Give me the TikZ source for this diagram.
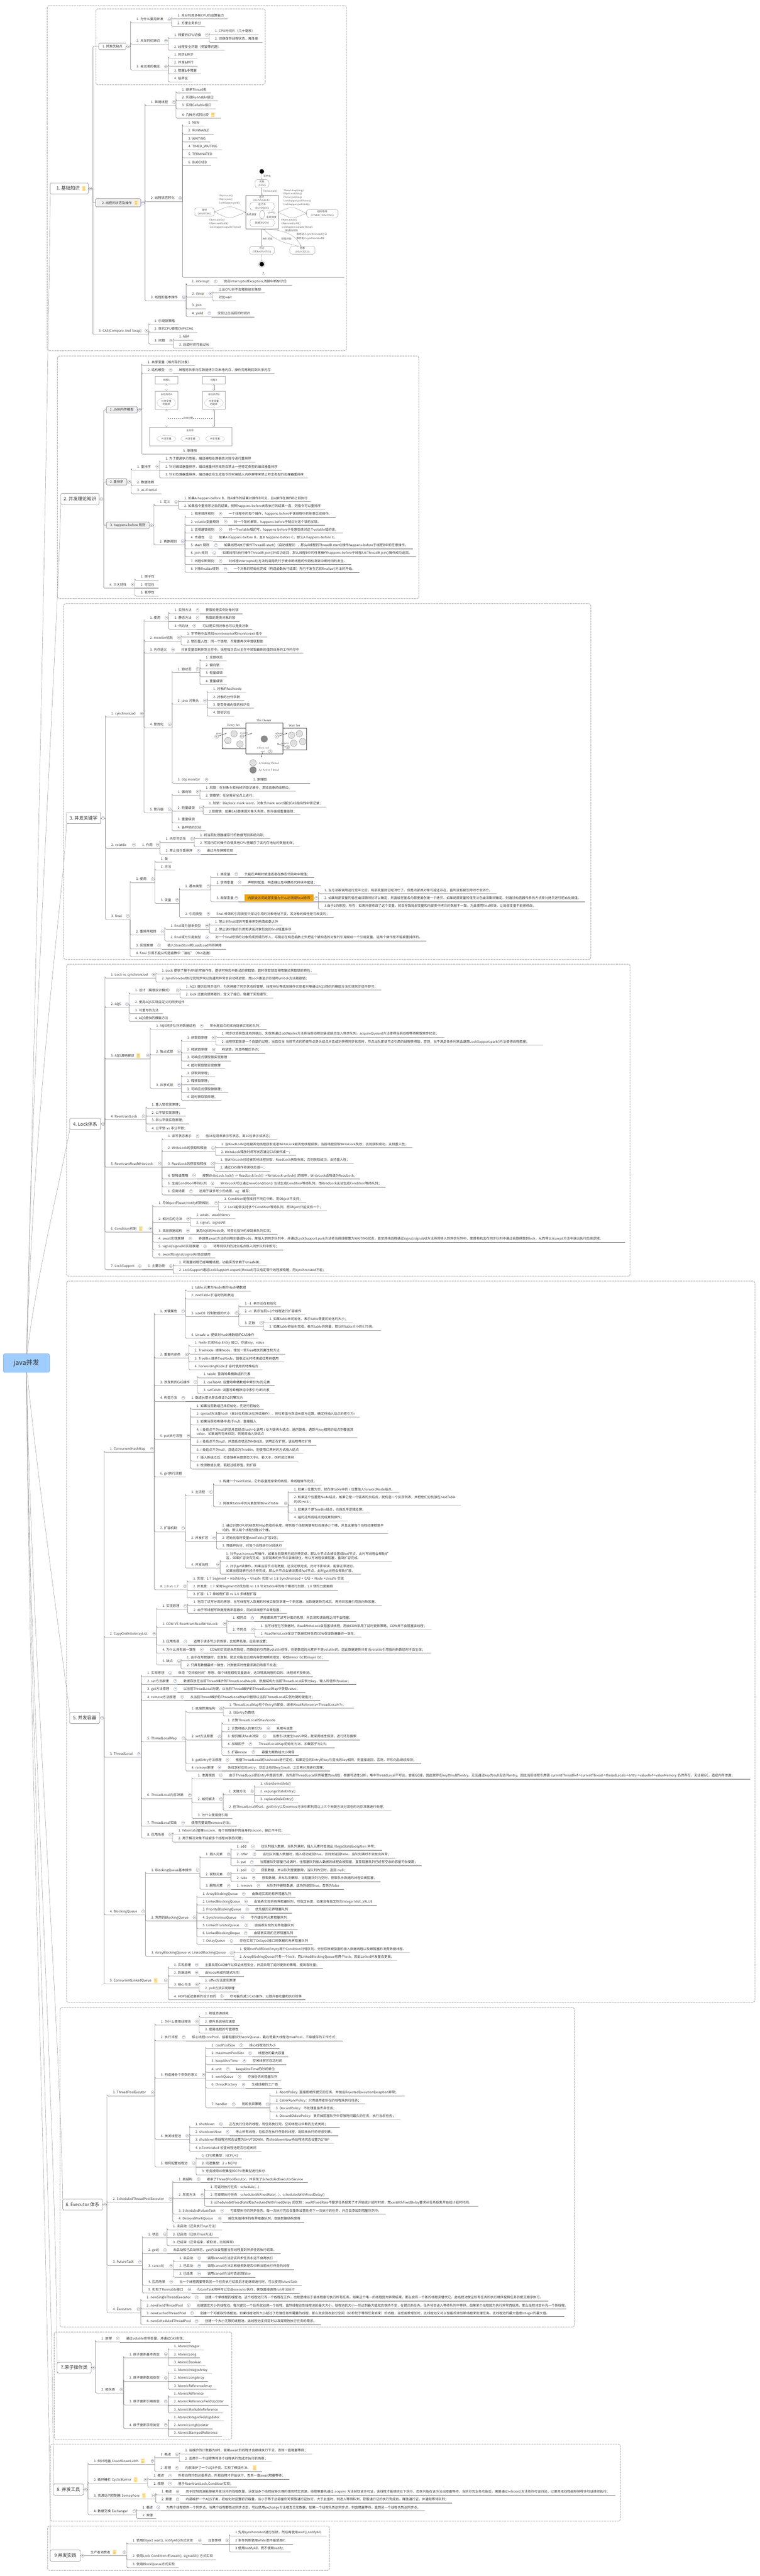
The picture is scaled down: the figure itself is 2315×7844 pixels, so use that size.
\documentclass[tikz,border=0pt]{standalone}
\usepackage{fontspec}
\setmainfont{Noto Sans CJK SC}
\newfontfamily\imgfont{Liberation Serif}
\usetikzlibrary{calc,backgrounds,arrows.meta,shapes.geometric}
\definecolor{inkc}{HTML}{333333}
\definecolor{linec}{HTML}{707070}
\definecolor{foldc}{HTML}{7F8CA3}
\definecolor{framec}{HTML}{B4B4B4}
\definecolor{rootc}{HTML}{9FCDFF}
\definecolor{hilitec}{HTML}{EFA30F}
\definecolor{notepg}{HTML}{FDE7A6}
\definecolor{noteln}{HTML}{F0C25A}
\definecolor{imgc}{HTML}{8A8A8A}
\definecolor{imgt}{HTML}{555555}
\tikzset{
	topic/.style={inner xsep=0pt,inner ysep=5pt,outer sep=0pt,text height=8pt,text depth=2pt,align=left,font=\fontsize{10}{13.5}\selectfont,text=inkc},
	link/.style={draw=linec,line width=.8pt,rounded corners=4pt},
	trunk/.style={draw=linec!80,line width=.7pt},
	fold/.style={circle,draw=foldc,fill=white,line width=.6pt,inner sep=0pt,minimum size=9.5pt,text=foldc},
	stub/.style={inner sep=0pt,outer sep=0pt,minimum size=0pt},
	regionbx/.style={draw=framec,line width=1.8pt,dash pattern=on 6pt off 2pt,rounded corners=6pt},
	rootbx/.style={draw=rootc!80!black,fill=rootc,rounded corners=5pt,line width=.8pt,outer sep=0pt,text=inkc,font=\fontsize{20}{24}\selectfont},
	topbx/.style={draw=linec,fill=white,rounded corners=4pt,line width=.8pt,outer sep=0pt,text=inkc,font=\fontsize{14}{17}\selectfont},
	subw/.style={draw=linec,fill=white,rounded corners=3pt,line width=.8pt,outer sep=0pt,text=inkc,font=\fontsize{10}{13}\selectfont},
	subg/.style={subw,fill=black!6},
	hilite/.style={fill=hilitec},
	imgtxt/.style={inner sep=0pt,text=imgt,align=center,font=\fontsize{8}{11}\imgfont\selectfont},
	imgcjk/.style={inner sep=0pt,text=imgt,align=center,font=\fontsize{7.6}{11}\selectfont},
	stbx/.style={draw=imgc,rounded corners=7pt,line width=.6pt,inner sep=0pt,outer sep=0pt,align=center,text=imgt,font=\fontsize{8}{11}\imgfont\selectfont},
	stl/.style={draw=imgc,line width=.6pt,->,>=stealth},
	jmmbx/.style={draw=imgc!70,line width=.6pt,inner sep=0pt,outer sep=0pt,text=imgt,font=\fontsize{7.6}{10}\selectfont},
	jmmel/.style={ellipse,draw=imgc!70,line width=.5pt,inner sep=0pt,outer sep=0pt,align=center,text=imgt,font=\fontsize{7.6}{10}\selectfont},
	jmmarr/.style={draw=imgc,line width=.5pt,double,double distance=3pt,{Implies}-{Implies}},
	mon/.style={draw=black!70,line width=.9pt},
	thw/.style={circle,draw=black!55,fill=black!12,line width=.5pt,inner sep=0pt,minimum size=20pt},
	thd/.style={circle,draw=black!60,fill=black!45,line width=.5pt,inner sep=0pt,minimum size=20pt},
	num/.style={circle,draw=black!70,line width=.5pt,inner sep=0pt,minimum size=11pt,font=\fontsize{7}{8}\imgfont\selectfont},
	monit/.style={inner sep=0pt,text=black!70,align=center,font=\fontsize{8}{9}\imgfont\itshape\selectfont},
	monar/.style={draw=black!80,line width=.7pt,->,>=stealth},
}
\newcommand{\foldbar}{\textcolor{foldc}{\rule[2pt]{5pt}{.6pt}}}
\newcommand{\notemark}{\hspace{7pt}\raisebox{-3.5pt}{\rlap{\textcolor{notepg}{\rule{11pt}{15pt}}}\rlap{\hspace{2pt}\raisebox{3pt}{\textcolor{noteln}{\rule{7pt}{1pt}}}}\rlap{\hspace{2pt}\raisebox{6.5pt}{\textcolor{noteln}{\rule{7pt}{1pt}}}}\rlap{\hspace{2pt}\raisebox{10pt}{\textcolor{noteln}{\rule{7pt}{1pt}}}}}\hspace{11pt}}
\newcommand{\twoln}[2]{\begin{tabular}[b]{@{}l@{}}#1\\#2\end{tabular}}
% name, parent, underline y, right end, text
\newcommand{\tp}[5]{%
	\path let \p1=(#2.south east) in node[topic,anchor=south west,text width={#4pt-\x1}] (#1) at (\x1,-#3pt) {\mbox{\hspace{18pt}#5}};
	\pgfpointanchor{#2}{south east}\pgfgetlastxy{\tpx}{\tpy}
	\pgfmathparse{abs(\tpy+#3)}
	\ifdim\pgfmathresult pt>1.5pt
		\draw[link] (#2.south east) |- (#1.south west) -- (#1.south east);
	\else
		\draw[link] (#2.south east) -- (#1.south east);
	\fi
	\ifcsname fold-#2\endcsname\else
		\expandafter\gdef\csname fold-#2\endcsname{}
		\node[fold] (#2-fold) at ([shift={(-7pt,11pt)}]#2.south east) {\foldbar};
	\fi}
% name, style, left, right, top, bottom, text
\newcommand{\bx}[7]{\node[#2,minimum width={#4pt-#3pt},minimum height={#6pt-#5pt}] (#1) at ({(#3+#4)/2},{(#5+#6)/2}) {#7};}
\newcommand{\bxout}[2]{%
	\node[stub] (#1o) at ([xshift=#2pt]#1.east) {};
	\draw[link] (#1.east) -- (#1o.south east);
	\node[fold] (#1-fold) at ([xshift=7pt]#1.east) {\foldbar};
	\expandafter\gdef\csname fold-#1o\endcsname{}}
\newcommand{\bxlink}[2]{\draw[link] (#1.south east) |- (#2.west);}

\begin{document}
\frenchspacing
\begin{tikzpicture}[x=1pt,y=-1pt]
	\useasboundingbox (0,0) rectangle (2315,7844);
	%DASHED REGIONS
	\draw[regionbx] (144,17) rectangle (1056,1068);
	\draw[regionbx] (292,27) rectangle (808,258);
	\draw[regionbx] (175,1084) rectangle (1276,1822.6);
	\draw[regionbx] (194,1838) rectangle (1800,2921.5);
	\draw[regionbx] (203,2936) rectangle (1920,3886);
	\draw[regionbx] (203,3901) rectangle (2300,6097);
	\draw[regionbx] (183,6113) rectangle (1750,7086);
	\draw[regionbx] (165,7101) rectangle (706,7428);
	\draw[regionbx] (154,7442.5) rectangle (1890,7677);
	\draw[regionbx] (145,7692) rectangle (1004,7827);

	%ROOT AND SECTIONS
	\bx{root}{rootbx}{10}{151}{4122}{4179}{java并发}
	\bx{a0}{topbx}{153}{269}{557}{591}{1. 基础知识\notemark}
	\bx{b0}{topbx}{185}{302}{1502.5}{1536}{2. 并发理论知识}
	\bx{c0}{topbx}{202}{307}{2474}{2508}{3. 并发关键字}
	\bx{d0}{topbx}{212}{307}{3405.5}{3439.5}{4. Lock体系}
	\bx{e0}{topbx}{212}{304}{5214}{5248}{5. 并发容器}
	\bx{f0}{topbx}{191}{312}{6696}{6730}{6. Executor 体系}
	\bx{g0}{topbx}{174}{278}{7193}{7226}{7.原子操作类}
	\bx{h0}{topbx}{163}{254}{7563.5}{7598}{8. 并发工具}
	\bx{i0}{topbx}{153}{245}{7765}{7799}{9 并发实践}
	\begin{scope}[on background layer]
		\draw[trunk] (root.center) .. controls (110,3000) and (148,1100) .. (a0.south west);
		\draw[trunk] (root.center) .. controls (100,3100) and (178,1900) .. (b0.south west);
		\draw[trunk] (root.center) .. controls (105,3300) and (198,2700) .. (c0.south west);
		\draw[trunk] (root.center) .. controls (95,3950) and (205,3500) .. (d0.south west);
		\draw[trunk] (root.center) .. controls (100,4400) and (205,5150) .. (e0.north west);
		\draw[trunk] (root.center) .. controls (95,5000) and (185,6200) .. (f0.north west);
		\draw[trunk] (root.center) .. controls (90,5200) and (170,6400) .. (g0.north west);
		\draw[trunk] (root.center) .. controls (90,5200) and (158,6700) .. (h0.north west);
		\draw[trunk] (root.center) .. controls (88,5300) and (150,6900) .. (i0.north west);
	\end{scope}
	\bxout{a0}{14}
	\bxout{b0}{14}
	\bxout{c0}{14}
	\bxout{d0}{13}
	\bxout{e0}{13}
	\bxout{f0}{14}
	\bxout{g0}{13}
	\bxout{h0}{14}
	\bxout{i0}{13}

	%SECTION 1
	\bx{a1}{subw}{301}{384}{131}{151}{1. 并发优缺点}
	\bxout{a1}{14}
	\bxlink{a0o}{a1}
	\tp{a1a}{a1o}{69.6}{523}{1. 为什么要用并发}
	\tp{a1a1}{a1a}{57.3}{694}{1. 充分利用多核CPU的运算能力}
	\tp{a1a2}{a1a}{81}{625}{2. 方便业务拆分}
	\tp{a1b}{a1o}{135}{513}{2. 并发的优缺点}
	\tp{a1b1}{a1b}{117.4}{637}{1. 频繁的CPU切换}
	\tp{a1b1a}{a1b1}{105.6}{788}{1. CPU时间片（几十毫秒）}
	\tp{a1b1b}{a1b1}{129.3}{799}{2. 切换保存线程状态，耗性能}
	\tp{a1b2}{a1b}{153.4}{685}{2. 线程安全问题（死锁等问题）}
	\tp{a1c}{a1o}{213.5}{513}{3. 易混淆的概念}
	\tp{a1c1}{a1c}{177.5}{602}{1. 同步\&异步}
	\tp{a1c2}{a1c}{201.3}{602}{2. 并发\&并行}
	\tp{a1c3}{a1c}{225.4}{612}{3. 阻塞\&非阻塞}
	\tp{a1c4}{a1c}{249.5}{585}{4. 临界区}

	\bx{a2}{subg}{291}{429}{605}{630}{2. 线程的状态及操作\notemark}
	\bxout{a2}{13}
	\bxlink{a0o}{a2}
	\tp{a2a}{a2o}{321.5}{536.5}{1. 新建线程}
	\tp{a2a1}{a2a}{283.5}{643}{1. 继承Thread类}
	\tp{a2a2}{a2a}{307}{664}{2. 实现Runnable接口}
	\tp{a2a3}{a2a}{331.4}{658}{3. 实现Callable接口}
	\tp{a2a4}{a2a}{360}{673}{4. 几种方式的比较\notemark}
	\tp{a2b}{a2o}{614}{556}{2. 线程状态转化}
	\tp{a2b1}{a2b}{384.3}{622}{1. NEW}
	\tp{a2b2}{a2b}{408.5}{651}{2. RUNNABLE}
	\tp{a2b3}{a2b}{432.6}{640.6}{3. WAITING}
	\tp{a2b4}{a2b}{456.3}{676}{4. TIMED\_WAITING}
	\tp{a2b5}{a2b}{480.4}{662}{5. TERMINATED}
	\tp{a2b6}{a2b}{504.6}{643}{6. BLOCKED}
	\tp{a2b7}{a2b}{844.5}{1049}{\hspace{225pt}7.}
	\tp{a2c}{a2o}{916}{567}{3. 线程的基本操作}
	\tp{a2c1}{a2c}{868}{664}{1. interrupt}
	\tp{a2c1a}{a2c1}{868}{889}{抛出InterruptedException,清除中断标识位}
	\tp{a2c2}{a2c}{904.5}{648}{2. sleep}
	\tp{a2c2a}{a2c2}{892}{807}{让出CPU并不会释放掉对象锁}
	\tp{a2c2b}{a2c2}{916}{719}{对比wait}
	\tp{a2c3}{a2c}{940.4}{627}{3. join}
	\tp{a2c4}{a2c}{964.5}{645}{4. yield}
	\tp{a2c4a}{a2c4}{964.5}{775}{仅仅让出当前的时间片}
	\tp{a3}{a0o}{1018}{453}{3. CAS(Compare And Swap)}
	\tp{a3a}{a3}{988.6}{545}{1. 乐观锁策略}
	\tp{a3b}{a3}{1012}{601}{2. 现代CPU使用CMPXCHG}
	\tp{a3c}{a3}{1048}{528}{3. 问题}
	\tp{a3c1}{a3c}{1036}{588}{1. ABA}
	\tp{a3c2}{a3c}{1060}{650}{2. 自旋时间可能过长}

	%STATE DIAGRAM
	\node[circle,fill=black,inner sep=0pt,minimum size=14pt] (ststart) at (797.6,522) {};
	\node[stbx,minimum width=42pt,minimum height=24pt] (stnew) at (798,559) {\fontsize{7.6}{11}\rmfamily 初始\\(NEW)};
	\node[draw=imgc,line width=.6pt,minimum width=98pt,minimum height=102.5pt,inner sep=0pt,outer sep=0pt] (strun) at (798,646.2) {};
	\node[imgcjk] (strunl) at (797,601) {运行};
	\node[imgtxt] (strunr) at (797,611) {(RUNNABLE)};
	\node[stbx,minimum width=73pt,minimum height=23pt] (strng) at (798.5,628.5) {\fontsize{7.6}{11}\rmfamily 运行中\\(RUNNING)};
	\node[stbx,minimum width=73pt,minimum height=23pt] (strdy) at (798.5,678.5) {\fontsize{7.6}{11}\rmfamily 就绪(READY)};
	\node[stbx,minimum width=60pt,minimum height=25pt] (stwait) at (623,645.5) {\fontsize{7.6}{11}\rmfamily 等待\\(WAITING)};
	\node[stbx,minimum width=96pt,minimum height=24.5pt] (sttime) at (982,649.7) {\fontsize{7.6}{11}\rmfamily 超时等待\\(TIMED\_WAITING)};
	\node[stbx,minimum width=76pt,minimum height=23.7pt] (stterm) at (798,762.4) {\fontsize{7.6}{11}\rmfamily 终止\\(TERMINATED)};
	\node[stbx,minimum width=77pt,minimum height=24pt] (stblk) at (921.5,762) {\fontsize{7.6}{11}\rmfamily 阻塞\\(BLOCKED)};
	\node[circle,draw=imgc,line width=.6pt,inner sep=0pt,minimum size=19pt] (stendo) at (797.6,804.5) {};
	\node[circle,fill=black,inner sep=0pt,minimum size=14pt] (stend) at (797.6,804.5) {};
	\draw[stl] (ststart) -- (stnew);
	\draw[stl] (stnew) -- (strun);
	\draw[stl] (strng.south) to[out=205,in=155] (strdy.north);
	\draw[stl] (strdy.north) to[out=25,in=-25] (strng.south);
	\draw[stl,rounded corners=12pt] (strun.west) -- (699,627) -- (stwait.east);
	\draw[stl,rounded corners=12pt] (stwait.east) -- (699,666) -- (strun.west);
	\draw[stl,rounded corners=12pt] (strun.east) -- (890,629) -- (sttime.west);
	\draw[stl,rounded corners=12pt] (sttime.west) -- (890,666) -- (strun.east);
	\draw[stl] (strun.south) -- (stterm.north);
	\draw[stl] ([xshift=5pt]strun.south) .. controls (870,700) and (900,715) .. ([xshift=-4pt]stblk.north);
	\draw[stl] ([xshift=-11pt]stblk.north) .. controls (870,740) and (840,735) .. ([xshift=5pt]strun.south);
	\draw[stl] (stterm) -- (stendo);
	\node[imgcjk] (lb1) at (814,536) {实例化};
	\node[imgtxt] (lb2) at (823,582) {Thread.start()};
	\node[imgtxt] (lb3) at (688,597) {Object.wait()};
	\node[imgtxt] (lb4) at (687,608) {Object.join()};
	\node[imgtxt] (lb5) at (699,618) {LockSupport.park()};
	\node[imgtxt] (lb6) at (661,671) {Object.notify()};
	\node[imgtxt] (lb7) at (667,682) {Object.notifyAll()};
	\node[imgtxt] (lb8) at (686,692.6) {LockSupport.unpark(Thread)};
	\node[imgtxt] (lb9) at (894,580.5) {Thread.sleep(long)};
	\node[imgtxt] (lb10) at (891,591) {Object.wait(long)};
	\node[imgtxt] (lb11) at (891,602) {Thread.join(long)};
	\node[imgtxt] (lb12) at (905.5,612.5) {LockSupport.parkNanos()};
	\node[imgtxt] (lb13) at (903.6,623) {LockSupport.parkUntil()};
	\node[imgtxt] (lb14) at (880.6,670) {Object.notify()};
	\node[imgtxt] (lb15) at (886.5,681) {Object.notifyAll()};
	\node[imgtxt] (lb16) at (905.6,692) {LockSupport.unpark(Thread)};
	\node[imgcjk] (lb17) at (888,702) {超进时间到};
	\node[imgcjk] (lb18) at (766,653.5) {系统调度};
	\node[imgtxt] (lb19) at (827,649) {yield()};
	\node[imgcjk] (lb20) at (827,661) {系统调度};
	\node[imgcjk] (lb21) at (815.5,728) {执行完成};
	\node[imgcjk] (lb22) at (872.5,728) {获取到锁};
	\node[imgcjk] (lb23) at (950,714) {等待进入synchronized方法};
	\node[imgcjk] (lb24) at (945.7,726) {等待进入synchronized块};

	%SECTION 2
	\bx{b1}{subg}{324}{418}{1238}{1258}{1. JMM内存模型}
	\bxout{b1}{14}
	\bxlink{b0o}{b1}
	\tp{b1a}{b1o}{1113}{594}{1. 共享变量（堆内存的对象）}
	\tp{b1b}{b1o}{1137.5}{527}{2. 结构模型}
	\tp{b1b1}{b1b}{1137.5}{836}{线程将共享内存数据拷贝到本地内存，操作完再刷回到共享内存}
	\tp{b1c}{b1o}{1383}{721}{\hspace{108pt}3. 原理图}

	%JMM PICTURE
	\node[jmmbx,minimum width=68pt,minimum height=23pt] (jmta) at (507,1157.5) {线程A};
	\node[jmmbx,minimum width=69pt,minimum height=23pt] (jmtb) at (651.5,1157.5) {线程B};
	\node[jmmbx,minimum width=68pt,minimum height=55pt] (jmla) at (507,1218.5) {};
	\node[jmmbx,minimum width=69pt,minimum height=55pt] (jmlb) at (651.5,1218.5) {};
	\node[jmmbx,draw=none] (jmlat) at (507,1201) {本地内存A};
	\node[jmmbx,draw=none] (jmlbt) at (651.5,1201) {本地内存B};
	\node[jmmel,minimum width=57pt,minimum height=31pt] (jmca) at (507,1226.5) {共享变量\\的副本};
	\node[jmmel,minimum width=57pt,minimum height=31pt] (jmcb) at (651.5,1226.5) {共享变量\\的副本};
	\node[jmmbx,minimum width=250pt,minimum height=56.5pt] (jmm) at (581,1329.8) {};
	\node[jmmbx,draw=none] (jmmt) at (579,1310.5) {主内存};
	\node[jmmel,minimum width=58pt,minimum height=20pt] (jms1) at (507,1336) {共享变量};
	\node[jmmel,minimum width=58pt,minimum height=20pt] (jms2) at (580,1336) {共享变量};
	\node[jmmel,minimum width=58pt,minimum height=20pt] (jms3) at (655,1336) {共享变量};
	\node[jmmbx,draw=none] (jmctl) at (573,1273.5) {JMM控制};
	\coordinate (jmml) at (510,1273.5);
	\coordinate (jmmr) at (649,1273.5);
	\draw[jmmarr] (jmta) -- (jmla);
	\draw[jmmarr] (jmtb) -- (jmlb);
	\draw[jmmarr] (jmla.south) -- (jmla.south |- jmm.north);
	\draw[jmmarr] (jmlb.south) -- (jmlb.south |- jmm.north);
	\draw[stl,dashed] (jmctl) -- (jmml);
	\draw[stl,dashed] (jmctl) -- (jmmr);

	\bx{b2}{subg}{324}{387}{1457.4}{1477}{2. 重排序}
	\bxout{b2}{13}
	\bxlink{b0o}{b2}
	\tp{b2a}{b2o}{1431.5}{486}{1. 重排序}
	\tp{b2a1}{b2a}{1407.4}{778}{1. 为了提高执行性能，编译器和处理器会对指令进行重排序}
	\tp{b2a2}{b2a}{1431.5}{858}{2. 针对编译器重排序，编译器重排序规则会禁止一些特定类型的编译器重排序}
	\tp{b2a3}{b2a}{1455.6}{938}{3. 针对处理器重排序，编译器会在生成指令的时候插入内存屏障来禁止特定类型的处理器重排序}
	\tp{b2b}{b2o}{1479}{483}{2. 数据依赖}
	\tp{b2c}{b2o}{1503.4}{492}{3. as-if-serial}
	\bx{b3}{subg}{324}{455}{1589.5}{1609.6}{3. happens-before 规则}
	\bxout{b3}{14}
	\bxlink{b0o}{b3}
	\tp{b3a}{b3o}{1539.6}{543.6}{1. 定义}
	\tp{b3a1}{b3a}{1527.5}{948}{1. 如果A happen-before B，则A操作的结果对操作B可见，且A操作在操作B之前执行}
	\tp{b3a2}{b3a}{1551}{991}{2. 如果指令重排序之后的结果，按照happens-before关系执行的结果一直，则指令可以重排序}
	\tp{b3b}{b3o}{1659}{563.5}{2. 具体规则}
	\tp{b3b1}{b3b}{1575.3}{679}{1. 程序顺序规则}
	\tp{b3b1a}{b3b1}{1575.3}{1023}{一个线程中的每个操作，happens-before于该线程中的任意后续操作。}
	\tp{b3b2}{b3b}{1599.4}{695}{2. volatile变量规则}
	\tp{b3b2a}{b3b2}{1599.4}{990}{对一个锁的解锁，happens-before于随后对这个锁的加锁。}
	\tp{b3b3}{b3b}{1623}{679}{3. 监视器锁规则}
	\tp{b3b3a}{b3b3}{1623}{1045}{对一个volatile域的写，happens-before于任意后续对这个volatile域的读。}
	\tp{b3b4}{b3b}{1647}{649}{4. 传递性}
	\tp{b3b4a}{b3b4}{1647}{1038}{如果A happens-before B，且B happens-before C，那么A happens-before C。}
	\tp{b3b5}{b3b}{1671}{665}{5. start 规则}
	\tp{b3b5a}{b3b5}{1671}{1257.6}{如果线程A执行操作ThreadB.start()（启动线程B），那么A线程的ThreadB.start()操作happens-before于线程B中的任意操作。}
	\tp{b3b6}{b3b}{1695}{660}{6. join 规则}
	\tp{b3b6a}{b3b6}{1695}{1267.5}{如果线程A执行操作ThreadB.join()并成功返回，那么线程B中的任意操作happens-before于线程A从ThreadB.join()操作成功返回。}
	\tp{b3b7}{b3b}{1719}{679}{7. 线程中断规则}
	\tp{b3b7a}{b3b7}{1719}{1070}{对线程interrupted()方法的调用先行于被中断线程的代码检测到中断时间的发生。}
	\tp{b3b8}{b3b}{1743}{694}{8. 对象finalize规则}
	\tp{b3b8a}{b3b8}{1743}{1095}{一个对象的初始化完成（构造函数执行结束）先行于发生它的finalize()方法的开始。}
	\tp{b4}{b0o}{1791}{411}{4. 三大特性}
	\tp{b4a}{b4}{1767}{483}{1. 原子性}
	\tp{b4b}{b4}{1791}{483}{2. 可见性}
	\tp{b4c}{b4}{1815.4}{483}{3. 有序性}

	%SECTION 3
	\tp{c1}{c0o}{2183.6}{439}{1. synchronized}
	\tp{c1a}{c1}{1892}{514}{1. 使用}
	\tp{c1a1}{c1a}{1868.6}{609}{1. 实例方法}
	\tp{c1a1a}{c1a1}{1868.6}{739}{获取的是实例对象的锁}
	\tp{c1a2}{c1a}{1892}{609}{2. 静态方法}
	\tp{c1a2a}{c1a2}{1892}{729}{获取的是类对象的锁}
	\tp{c1a3}{c1a}{1916.3}{599}{3. 代码块}
	\tp{c1a3a}{c1a3}{1916.3}{769}{可以是实例对象也可以是类对象}
	\tp{c1b}{c1}{1952.4}{552}{2. monitor机制}
	\tp{c1b1}{c1b}{1940}{814}{1. 字节码中会添加monitorenter和monitorexit指令}
	\tp{c1b2}{c1b}{1964.5}{814}{2. 锁的重入性：同一个锁程，不需要再次申请获取锁}
	\tp{c1c}{c1}{1988.7}{534}{3. 内存语义}
	\tp{c1c1}{c1c}{1988.7}{924}{共享变量会刷新到主存中，线程每次会从主存中读取最新的值到自身的工作内存中}
	\tp{c1d}{c1}{2216.5}{524}{4. 锁优化}
	\tp{c1d1}{c1d}{2048}{609}{1. 锁状态}
	\tp{c1d1a}{c1d1}{2012.5}{691}{1. 无锁状态}
	\tp{c1d1b}{c1d1}{2036.7}{681}{2. 偏向锁}
	\tp{c1d1c}{c1d1}{2060.4}{691}{3. 轻量级锁}
	\tp{c1d1d}{c1d1}{2084.7}{691}{4. 重量级锁}
	\tp{c1d2}{c1d}{2144.3}{631.5}{2. java 对象头}
	\tp{c1d2a}{c1d2}{2108.4}{750}{1. 对象的hashcode}
	\tp{c1d2b}{c1d2}{2132.7}{744}{2. 对象的分代年龄}
	\tp{c1d2c}{c1d2}{2156.4}{774}{3. 是否是偏向锁的标识位}
	\tp{c1d2d}{c1d2}{2180.7}{714}{4. 锁标识位}
	\tp{c1d3}{c1d}{2385}{636.5}{3. obj monitor}
	\tp{c1d3a}{c1d3}{2385}{944}{\hspace{117pt}1. 原理图}

	%MONITOR PICTURE
	\node[mon,inner sep=0pt,outer sep=0pt,minimum width=114pt,minimum height=94.5pt] (mowner) at (805,2248.7) {};
	\node[mon,inner sep=0pt,outer sep=0pt,minimum width=71.4pt,minimum height=63pt,anchor=north east] (mentry) at (748.4,2217) {};
	\node[mon,inner sep=0pt,outer sep=0pt,minimum width=72pt,minimum height=66pt,anchor=north west] (mwaits) at (862,2217) {};
	\node[inner sep=0pt,font=\fontsize{10}{11}\imgfont\selectfont,text=black!75] (mt1) at (804,2193) {The Owner};
	\node[inner sep=0pt,font=\fontsize{10}{11}\imgfont\selectfont,text=black!75] (mt2) at (712,2209) {Entry Set};
	\node[inner sep=0pt,font=\fontsize{10}{11}\imgfont\selectfont,text=black!75] (mt3) at (897,2209) {Wait Set};
	\node[thw] (me1) at (713,2234.5) {};
	\node[thw] (me2) at (694.5,2255) {};
	\node[thw] (me3) at (731,2265.5) {};
	\node[thw] (mw1) at (888,2239) {};
	\node[thw] (mw2) at (912,2234) {};
	\node[thw] (mw3) at (895,2263) {};
	\node[thw] (mw4) at (922,2258) {};
	\node[thd] (mo1) at (805,2250) {};
	\node[thw] (ml1) at (771,2323) {};
	\node[thd] (ml2) at (771,2344.5) {};
	\node[inner sep=0pt,anchor=west,font=\fontsize{8.5}{10}\imgfont\selectfont,text=black!70] (mlt1) at (788,2325) {A Waiting Thread};
	\node[inner sep=0pt,anchor=west,font=\fontsize{8.5}{10}\imgfont\selectfont,text=black!70] (mlt2) at (788,2345.5) {An Active Thread};
	\node[num] (mn1) at (660,2243) {1};
	\node[num] (mn2) at (737,2243) {2};
	\node[num] (mn3) at (843,2243) {3};
	\node[num] (mn4) at (877,2275) {4};
	\node[num] (mn5) at (824,2288) {5};
	\node[monit] (mi1) at (667,2233.5) {enter};
	\node[monit] (mi2) at (743.5,2233.5) {acquire};
	\node[monit] (mi3) at (850,2233.5) {release};
	\node[monit] (mi4) at (868,2265) {acquire};
	\node[monit] (mi5) at (800.7,2278) {release and};
	\node[monit] (mi6) at (800.7,2288) {exit};
	\draw[monar] (mn1) -- (690.4,2233);
	\draw[monar] (mn2) -- (767.5,2233);
	\draw[monar] (mn3) -- (875,2233);
	\draw[monar] (mn4) -- (844.6,2264.5);
	\draw[monar] (mi6) -- (796.5,2306);

	\tp{c1e}{c1}{2475.4}{524}{5. 锁升级}
	\tp{c1e1}{c1e}{2421.6}{609}{1. 偏向锁}
	\tp{c1e1a}{c1e1}{2409.5}{901}{1. 加锁：在对象头和栈帧的锁记录中，添加自身的线程ID；}
	\tp{c1e1b}{c1e1}{2433.2}{790.7}{2. 锁撤销：在全局安全点上进行；}
	\tp{c1e2}{c1e}{2470}{619}{2. 轻量级锁}
	\tp{c1e2a}{c1e2}{2457.4}{994}{1. 加锁：Displace mark word，对象头mark word通过CAS指向栈中锁记录；}
	\tp{c1e2b}{c1e2}{2481}{915}{2.锁撤销：如果CAS替换回对象头失败，则升级成重量级锁；}
	\tp{c1e3}{c1e}{2505.4}{606}{3. 重量级锁}
	\tp{c1e4}{c1e}{2529.7}{625.7}{4. 各种锁的比较}
	\tp{c2}{c0o}{2583}{415}{2. volatile}
	\tp{c2a}{c2}{2583}{487}{1. 作用}
	\tp{c2a1}{c2a}{2565.5}{591.7}{1. 内存可见性}
	\tp{c2a1a}{c2a1}{2553.4}{824}{1. 将当前处理器缓存行的数据写回系统内存；}
	\tp{c2a1b}{c2a1}{2577.7}{913.5}{2. 写回内存的操作会使其他CPU里缓存了该内存地址的数据无效；}
	\tp{c2a2}{c2a}{2601.4}{612}{2. 禁止指令重排序}
	\tp{c2a2a}{c2a2}{2601.4}{722}{通过内存屏障实现}
	\tp{c3}{c0o}{2800}{396.6}{3. final}
	\tp{c3a}{c3}{2688}{472}{1. 使用}
	\tp{c3a1}{c3a}{2625.6}{524}{1. 类}
	\tp{c3a2}{c3a}{2649.4}{533.7}{2. 方法}
	\tp{c3a3}{c3a}{2751}{546.7}{3. 变量}
	\tp{c3a3a}{c3a3}{2709.6}{642}{1. 基本类型}
	\tp{c3a3a1}{c3a3a}{2672.8}{727}{1. 类变量}
	\tp{c3a3a1a}{c3a3a1}{2672.8}{957}{只能在声明时赋值或者在静态代码块中赋值；}
	\tp{c3a3a2}{c3a3a}{2697.5}{737}{2. 实例变量}
	\tp{c3a3a2a}{c3a3a2}{2697.5}{977}{声明时赋值，构造器以及非静态代码块中赋值；}
	\tp{c3a3a3}{c3a3a}{2745.5}{727}{3. 局部变量}
	\fill[hilite] (745,2724) rectangle (956,2744);
	\tp{c3a3a3a}{c3a3a3}{2745.5}{970.6}{\hspace{10pt}内部类访问局部变量为什么必须用final修饰}
	\tp{c3a3a3a1}{c3a3a3a}{2721}{1513}{1. 当方法被调用运行完毕之后，局部变量就已经消亡了。但是内部类对象可能还存在，直到没有被引用时才会消亡。}
	\tp{c3a3a3a2}{c3a3a3a}{2745.5}{1782}{2. 如果局部变量的值在编译期间就可以确定，则直接在匿名内部里面创建一个拷贝。如果局部变量的值无法在编译期间确定，则通过构造器传参的方式来对拷贝进行初始化赋值。}
	\tp{c3a3a3a3}{c3a3a3a}{2769}{1640}{3.由于2的原因，所有：如果外部修改了这个变量，就会导致局部变量和内部类中拷贝的数据不一致，为此使用final修饰，让局部变量不能被修改。}
	\tp{c3a3b}{c3a3}{2793.5}{642}{2. 引用类型}
	\tp{c3a3b1}{c3a3b}{2793.5}{1016.5}{final 修饰的引用类型只保证引用的对象地址不变，其对象的属性是可改变的；}
	\tp{c3b}{c3}{2847.3}{502}{2. 重排序规则}
	\tp{c3b1}{c3b}{2829.3}{637.6}{1. final域为基本类型}
	\tp{c3b1a}{c3b1}{2817.2}{860.5}{1. 禁止对final域的写重排序到构造函数之外}
	\tp{c3b1b}{c3b1}{2841.5}{901.7}{2. 禁止读对象的引用和读该对象包含的final域重排序}
	\tp{c3b2}{c3b}{2865.2}{638}{2. final域为引用类型}
	\tp{c3b2a}{c3b2}{2865.2}{1298.7}{对一个final修饰的对象的成员域的写入，与随后在构造函数之外把这个被构造的对象的引用赋给一个引用变量，这两个操作是不能被重排序的。}
	\tp{c3c}{c3}{2889.5}{492}{3. 实现原理}
	\tp{c3c1}{c3c}{2889.5}{688}{插入StoreStore和LoadLoad内存屏障}
	\tp{c3d}{c3}{2913}{649}{4. final 引用不能从构造函数中“溢出”（this逃逸）}

	%SECTION 4
	\tp{d1}{d0o}{2978.6}{475}{1. Lock vs synchronized}
	\tp{d1a}{d1}{2966.5}{966}{1. Lock 提供了基于API的可操作性，提供可响应中断式的获取锁，超时获取锁及非阻塞式获取锁的特性；}
	\tp{d1b}{d1}{2990.3}{952}{2. synchronized执行完同步块以及遇到异常会自动释放锁，而Lock要显示的调用unlock方法释放锁；}
	\tp{d2}{d0o}{3068.3}{393.7}{2. AQS}
	\tp{d2a}{d2}{3026.6}{548.7}{1. 设计（模版设计模式）}
	\tp{d2a1}{d2a}{3014.5}{1162}{1. AQS 提供给同步组件，为其屏蔽了同步状态的管理，线程排队等底层操作实现者只需通过AQS提供的模版方法实现同步组件即可；}
	\tp{d2a2}{d2a}{3038.8}{833}{2. lock 式面向使用者的，定义了接口，隐藏了实现细节；}
	\tp{d2b}{d2}{3062.5}{575.5}{2. 使用AQS实现自定义的同步组件}
	\tp{d2c}{d2}{3086.7}{496}{3. 可重写的方法}
	\tp{d2d}{d2}{3110.5}{525}{4. AQS提供的模版方法}
	\tp{d3}{d0o}{3225}{457.8}{3. AQS源码解读\notemark}
	\tp{d3a}{d3}{3134.7}{621.5}{1. AQS同步队列的数据结构}
	\tp{d3a1}{d3a}{3134.7}{812}{带头尾结点的双向链表实现的队列；}
	\tp{d3b}{d3}{3212.3}{552.5}{2. 独占式锁}
	\tp{d3b1}{d3b}{3170.6}{657.7}{1. 获取锁原理}
	\tp{d3b1a}{d3b1}{3158.5}{1354}{1. 同步状态获取成功则退出，失败则通过addWaiter方法将当前线程封装成结点加入同步队列，acquireQueued方法使得当前线程等待获取同步状态；}
	\tp{d3b1b}{d3b1}{3182.7}{1655}{2. 线程获取锁是一个自旋的过程，当且仅当 当前节点的前驱节点是头结点并且成功获得同步状态时，节点出队即该节点引用的线程获得锁，否则，当不满足条件时就会调用LookSupport.park()方法使得线程阻塞；}
	\tp{d3b2}{d3b}{3206.5}{658}{2. 释放锁原理}
	\tp{d3b2a}{d3b2}{3206.5}{808}{释放锁，并且唤醒后节点；}
	\tp{d3b3}{d3b}{3230.7}{704.6}{3. 可响应式获取锁实现原理}
	\tp{d3b4}{d3b}{3254.5}{685.5}{4. 超时获取锁实现原理}
	\tp{d3c}{d3}{3314.6}{552.5}{3. 共享式锁}
	\tp{d3c1}{d3c}{3278.7}{655}{1. 获取锁原理；}
	\tp{d3c2}{d3c}{3303}{655}{2. 释放锁原理；}
	\tp{d3c3}{d3c}{3326.7}{695}{3. 可响应式获取锁原理；}
	\tp{d3c4}{d3c}{3350.4}{675}{4. 超时获取锁原理；}
	\tp{d4}{d0o}{3410}{444.4}{4. ReentrantLock}
	\tp{d4a}{d4}{3374.7}{566}{1. 重入锁实现原理；}
	\tp{d4b}{d4}{3399}{566}{2. 公平锁实现原理；}
	\tp{d4c}{d4}{3422}{576.4}{3. 非公平锁实现原理；}
	\tp{d4d}{d4}{3446.3}{582}{4. 公平锁 vs 非公平锁；}
	\tp{d5}{d0o}{3554.2}{494}{5. ReentrantReadWriteLock}
	\tp{d5a}{d5}{3470.4}{609}{1. 读写状态表示}
	\tp{d5a1}{d5a}{3470.4}{843.3}{低16位用来表示写状态，高16位表示读状态；}
	\tp{d5b}{d5}{3506.8}{655.8}{2. WriteLock的获取和释放}
	\tp{d5b1}{d5b}{3494.5}{1256.6}{1. 当ReadLock已经被其他线程获取或者WriteLock被其他线程获取，当前线程获取WriteLock失败；否则获取成功。支持重入性；}
	\tp{d5b2}{d5b}{3518.2}{901.7}{2. WriteLock释放时将写状态通过CAS操作减一；}
	\tp{d5c}{d5}{3554.2}{654}{3. ReadLock的获取和释放}
	\tp{d5c1}{d5c}{3542.3}{1077.7}{1. 当WriteLock已经被其他线程获取，ReadLock获取失败；否则获取成功。支持重入性；}
	\tp{d5c2}{d5c}{3566.5}{823}{2. 通过CAS操作将读状态减一；}
	\tp{d5d}{d5}{3590.2}{598.6}{4. 锁降级策略}
	\tp{d5d1}{d5d}{3590.2}{1096}{按照WriteLock.lock() -> ReadLock.lock() ->WriteLock.unlock() 的顺序，WriteLock会降级为ReadLock；}
	\tp{d5e}{d5}{3614.3}{654}{5. 生成Condition等待队列}
	\tp{d5e1}{d5e}{3614.3}{1174.3}{WriteLock可以通过newCondition() 方法生成Condition等待队列，而ReadLock无法生成Condition等待队列；}
	\tp{d5f}{d5}{3638.4}{589}{6. 应用场景}
	\tp{d5f1}{d5f}{3638.4}{780}{适用于读多写少的场景，eg：缓存；}
	\tp{d6}{d0o}{3752}{465.4}{6. Condition机制\notemark}
	\tp{d6a}{d6}{3674.4}{665.4}{1. 与Object的wait/notify机制相比}
	\tp{d6a1}{d6a}{3662.2}{933.3}{1. Condition能够支持不响应中断，而Object不支持；}
	\tp{d6a2}{d6a}{3686.3}{995.4}{2. Lock能够支持多个Condition等待队列，而Object只能支持一个；}
	\tp{d6b}{d6}{3722.3}{580.2}{2. 相对应的方法}
	\tp{d6b1}{d6b}{3710.4}{717}{1. await、awaitNanos}
	\tp{d6b2}{d6b}{3734}{706.5}{2. signal、signalAll}
	\tp{d6c}{d6}{3758.2}{579.5}{3. 底层数据结构}
	\tp{d6c1}{d6c}{3758.2}{845}{复用AQS的Node类，带首位指针的单链表队列实现；}
	\tp{d6d}{d6}{3782.4}{587}{4. await实现原理}
	\tp{d6d1}{d6d}{3782.4}{1905}{将调用await方法的线程封装成Node，尾插入到同步队列中，并通过LockSupport.park方法将当前线程置为WAITING状态，直至其他线程通过signal/signalAll方法将其移入到同步队列中，使其有机会在同步队列中通过自旋获取到lock，从而得以从await方法中退出执行后续逻辑；}
	\tp{d6e}{d6}{3806}{632}{5. signal/signalAll实现原理}
	\tp{d6e1}{d6e}{3806}{862.5}{将等待队列的对头结点移入同步队列中即可；}
	\tp{d6f}{d6}{3830.2}{655.8}{6. await和signal/signalAll结合使用}
	\tp{d7}{d0o}{3866.2}{433}{7. LockSupport}
	\tp{d7a}{d7}{3866.2}{527.6}{1. 主要功能}
	\tp{d7a1}{d7a}{3854.3}{812.7}{1. 可阻塞线程已经唤醒线程，功能实现依赖于Unsafe类；}
	\tp{d7a2}{d7a}{3878.4}{1003}{2. LockSupport通过LockSupport.unpark(thread)可以指定哪个线程被唤醒，而synchronized不能；}

	%SECTION 5
	\tp{e1}{e0o}{4422.4}{470.2}{1. ConcurrentHashMap}
	\tp{e1a}{e1}{4003.5}{565}{1. 关键属性}
	\tp{e1a1}{e1a}{3931.4}{765}{1. table:元素为Node类的Hash桶数组}
	\tp{e1a2}{e1a}{3955.5}{727.6}{2. nextTable:扩容时的新数组}
	\tp{e1a3}{e1a}{4009.3}{727.6}{3. sizeCtl: 控制数据的大小}
	\tp{e1a3a}{e1a3}{3979.3}{855}{1. -1 :表示正在初始化}
	\tp{e1a3b}{e1a3}{4003.4}{930.4}{2. -n :表示当前n-1个线程进行扩容操作}
	\tp{e1a3c}{e1a3}{4039}{803}{3. 正数}
	\tp{e1a3c1}{e1a3c}{4027.3}{1075}{1. 如果table未初始化，表示table需要初始化的大小；}
	\tp{e1a3c2}{e1a3c}{4051.2}{1161}{2. 如果table初始化完成，表示table的容量，默认时table大小的0.75倍。}
	\tp{e1a4}{e1a}{4075.5}{786}{4. Unsafe u: 提供对Hash桶数组的CAS操作}
	\tp{e1b}{e1}{4135.3}{575.5}{2. 重要内部类}
	\tp{e1b1}{e1b}{4099.3}{820.4}{1. Node:实现Map.Entry 接口，存放key，value}
	\tp{e1b2}{e1b}{4123.2}{869}{2. TreeNode: 继承Node，增加一些Tree相关的属性和方法}
	\tp{e1b3}{e1b}{4147.4}{865.3}{3. TreeBin:继承TreeNode，链表过长时转换成红黑树使用}
	\tp{e1b4}{e1b}{4171.3}{799.3}{4. ForwordingNode:扩容时使用的特殊结点}
	\tp{e1c}{e1}{4219.4}{602.2}{3. 涉及到的CAS操作}
	\tp{e1c1}{e1c}{4195.6}{776.3}{1. tabAt: 查询哈希桶数组的元素}
	\tp{e1c2}{e1c}{4219.4}{836.6}{2. casTabAt: 设置哈希桶数组中索引为i的元素}
	\tp{e1c3}{e1c}{4243.3}{836.6}{3. setTabAt: 设置哈希桶数组中索引为i的元素}
	\tp{e1d}{e1}{4267.6}{565}{4. 构造方法}
	\tp{e1d1}{e1d}{4267.6}{753.4}{1. 数组长度总是会保证为2的幂次方}
	\tp{e1e}{e1}{4382.5}{581.2}{5. put执行流程}
	\tp{e1e1}{e1e}{4291.4}{803}{1. 如果当前数组还未初始化，先进行初始化}
	\tp{e1e2}{e1e}{4315.3}{1096}{2. spread方法重hash（高16位和低16位异或操作），将哈希值与数组长度与运算，确定待插入结点的索引为i}
	\tp{e1e3}{e1e}{4339}{793.6}{3. 如果当前哈希桶中i处于null，直接插入}
	\tp{e1e4}{e1e}{4377.3}{1089}{\twoln{4. i 处结点不为null的话并且结点hash>0,说明 i 处为链表头结点。遍历链表，遇到与key相同的结点则覆盖其}{value，如果遍历完未找到，则尾部插入新结点}}
	\tp{e1e5}{e1e}{4401}{963}{5. i 处结点不为null，并且结点状态为MOVED，说明正在扩容，该线程帮忙扩容}
	\tp{e1e6}{e1e}{4425}{923.7}{6. i 处结点不为null，且结点为TreeBin，则使用红黑树的方式插入结点}
	\tp{e1e7}{e1e}{4449.3}{909.3}{7. 插入新结点后，检查链表长度是否大于8，若大于，则转成红黑树}
	\tp{e1e8}{e1e}{4473}{792.6}{8. 检测数组长度，若超过临界值，则扩容}
	\tp{e1f}{e1}{4497.4}{566.8}{6. get执行流程}
	\tp{e1g}{e1}{4664}{565}{7. 扩容机制}
	\tp{e1g1}{e1g}{4554.2}{650}{1. 主流程}
	\tp{e1g1a}{e1g1}{4521.7}{980}{1. 构建一个nextTable，它的容量是原来的两倍，单线程操作完成；}
	\tp{e1g1b}{e1g1}{4588.5}{877.8}{2. 将原来table中的元素复制到nextTable}
	\tp{e1g1b1}{e1g1b}{4545.5}{1216.4}{1. 如果 i 位置为空，就在原table中的 i 位置放入forwordNode结点。}
	\tp{e1g1b2}{e1g1b}{4583.7}{1404}{\twoln{2. 如果这个位置是Node结点，如果它是一个链表的头结点，就构造一个反序列表，并把他们分别放在nextTable}{的i和i+n上；}}
	\tp{e1g1b3}{e1g1b}{4607.5}{1127.5}{3. 如果这个是TreeBin结点，也做反序逻辑处理；}
	\tp{e1g1b4}{e1g1b}{4631.4}{1059.5}{4. 遍历过所有结点完成复制操作；}
	\tp{e1g2}{e1g}{4693.4}{659.6}{2. 并发扩容}
	\tp{e1g2a}{e1g2}{4669.5}{1182}{\twoln{1. 通过计算CPU的核数和Map数组的长度，得到每个线程需要帮助处理多少个桶，并且这里每个线程处理都是平}{均的。默认每个线程处理16个桶。}}
	\tp{e1g2b}{e1g2}{4693.4}{865}{2. 初始化临时变量nextTable,扩容2倍；}
	\tp{e1g2c}{e1g2}{4717}{872}{3. 死循环执行，对每个线程进行分段执行}
	\tp{e1g4}{e1g}{4774.6}{671}{4. 并发线程：}
	\tp{e1g4a}{e1g4}{4755.4}{1195}{\twoln{1. 对于put/remove写操作，如果当前链表已经迁移完成，那么头节点会被设置成fwd节点，此时写线程会帮助扩}{容，如果扩容没有完成，当前链表的头节点会被锁住，所以写线程会被阻塞，直到扩容完成。}}
	\tp{e1g4b}{e1g4}{4793.4}{1100}{\twoln{2. 对于get读操作，如果当前节点有数据，还没迁移完成，此时不影响读，能够正常进行。}{如果当前链表已经迁移完成，那么头节点会被设置成fwd节点，此时get线程会帮助扩容。}}
	\tp{e1h}{e1}{4841}{570.7}{8. 1.8 vs 1.7}
	\tp{e1h1}{e1h}{4817}{1063.3}{1. 实现：1.7 Segment + HashEntry + Unsafe 实现 vs 1.8 Synchronized + CAS + Node +Unsafe 实现}
	\tp{e1h2}{e1h}{4841}{1029}{2. 并发度：1.7 采用Segment分段加锁 vs 1.8 针对table中的每个桶进行加锁，1.8 锁的力度更细}
	\tp{e1h3}{e1h}{4865.3}{795.5}{3. 扩容：1.7 单线程扩容 vs 1.8 多线程扩容}
	\tp{e2}{e0o}{4985.8}{477}{2. CopyOnWriteArrayList}
	\tp{e2a}{e2}{4901}{571.6}{1. 实现原理}
	\tp{e2a1}{e2a}{4889}{1163.8}{1. 利用了读写分离的思想；当写线程写入数据的时候会复制新建一个新容器，当数据更新完成后，再将旧容器引用指向新容器；}
	\tp{e2a2}{e2a}{4913}{874}{2. 由于写线程写数据是再新容器中，因此读线程不会被阻塞；}
	\tp{e2b}{e2}{4955.4}{691.2}{2. COW VS ReentrantReadWriteLock}
	\tp{e2b1}{e2b}{4937.6}{775.6}{1. 相同点}
	\tp{e2b1a}{e2b1}{4937.6}{1086.3}{两者都采用了读写分离的思想，并且读和读线程之间不会阻塞；}
	\tp{e2b2}{e2b}{4973.3}{776.4}{2. 不同点}
	\tp{e2b2a}{e2b2}{4961.7}{1315}{1. 当写线程在写数据时，ReadWriteLock会阻塞读线程，而由COW采用了延时更新策略，COW并不会阻塞读线程；}
	\tp{e2b2b}{e2b2}{4985.4}{1101.6}{2. ReadWriteLock保证了数据实时性而COW保证数据最终一致性；}
	\tp{e2c}{e2}{5009.5}{572}{3. 应用场景}
	\tp{e2c1}{e2c}{5009.5}{832}{适用于读多写少的场景，比如黑名单，白名单设置；}
	\tp{e2d}{e2}{5033.6}{621.6}{4. 为什么具有弱一致性}
	\tp{e2d1}{e2d}{5033.6}{1313}{COW的实现是采用数组，而数组的引用是volatile修饰，但是数组的元素并不是volatile的。因此数据更新只有当volatile引用指向新数组时才会生效；}
	\tp{e2e}{e2}{5069.3}{551.6}{5. 缺点}
	\tp{e2e1}{e2e}{5057.2}{1002}{1. 由于在写数据时，会复制，因此可能会出现内存使用瞬间增加，导致minor GC和major GC；}
	\tp{e2e2}{e2e}{5081.3}{864.4}{2. 只具有数据最终一致性，对数据实时性要求高的场景不合适；}
	\tp{e3}{e0o}{5351}{431}{3. ThreadLocal}
	\tp{e3a}{e3}{5105.4}{525}{1. 实现思想}
	\tp{e3a1}{e3a}{5105.4}{954.3}{采用“空间换时间”思想，每个线程拥有变量副本，达到隔离线程的目的，线程间不受影响。}
	\tp{e3b}{e3}{5129.5}{541}{2. set方法原理}
	\tp{e3b1}{e3b}{5129.5}{1086}{数据存放在当前Thread维护的ThreadLocalMap中，数据结构为当前ThreadLocal实例为key，输入的值作为value；}
	\tp{e3c}{e3}{5153.6}{541}{3. get方法原理}
	\tp{e3c1}{e3c}{5153.6}{930.4}{以当前ThreadLocal为键，从当前Thread维护的ThreadLocalMap中获取value；}
	\tp{e3d}{e3}{5177.8}{562}{4. remove方法原理}
	\tp{e3d1}{e3d}{5177.8}{975.3}{从当前Thread维护的ThreadLocalMap中删除以当前ThreadLocal实例为键的键值对；}
	\tp{e3e}{e3}{5304}{566}{5. ThreadLocalMap}
	\tp{e3e1}{e3e}{5213.5}{680.7}{1. 底层数据结构}
	\tp{e3e1a}{e3e1}{5201.4}{1078.7}{1. ThreadLocalMap有个Entry内部类，继承WeakReference<ThreadLocal<?>>；}
	\tp{e3e1b}{e3e1}{5225.5}{787.8}{2. 以Entry为数组}
	\tp{e3e2}{e3e}{5298.3}{676}{2. set方法原理}
	\tp{e3e2a}{e3e2}{5249.6}{853}{1. 计算ThreadLocal的hashcode}
	\tp{e3e2b}{e3e2}{5273.7}{824.4}{2. 计算待插入的索引为i}
	\tp{e3e2b1}{e3e2b}{5273.7}{903.6}{采用与运算}
	\tp{e3e2c}{e3e2}{5297.8}{813}{3. 如何解决hash冲突}
	\tp{e3e2c1}{e3e2c}{5297.8}{1097}{当索引i次发生hash冲突，就采用线性探测，进行环形搜索}
	\tp{e3e2d}{e3e2}{5321.5}{770}{4. 加载因子}
	\tp{e3e2d1}{e3e2d}{5321.5}{1019.4}{ThreadLocalMap初始化为16，加载因子为2/3；}
	\tp{e3e2e}{e3e2}{5345.6}{779.4}{5. 扩容resize}
	\tp{e3e2e1}{e3e2e}{5345.6}{910.3}{容量为原数组大小两倍}
	\tp{e3e3}{e3e}{5369.7}{700}{3. getEntry方法原理}
	\tp{e3e3a}{e3e3}{5369.7}{1283.4}{根据ThreadLocal的hashcode进行定位，如果定位的Entry的key与查找的key相同，则直接返回，否则，环形向后继续探测；}
	\tp{e3e4}{e3e}{5393}{676}{4. remove原理}
	\tp{e3e4a}{e3e4}{5393}{1006}{先找到对应的entry，然后让他的key为null，之后再对其进行清理；}
	\tp{e3f}{e3}{5477}{585}{6. ThreadLocal内存泄漏}
	\tp{e3f1}{e3f}{5416.9}{680}{1. 泄漏原因}
	\tp{e3f1a}{e3f1}{5416.9}{2285}{由于ThreadLocal的Entry中是弱引用，当外部ThreadLocal实例被置为null后，根据可达性分析，堆中ThreadLocal不可达，会被GC掉，因此就存在key为null的entry。无法通过key为null去访问entry，因此当前线程引用链 currentThreadRef->currentThread->threadLocals->entry->valueRef->valueMemory 仍然存在，无法被GC，造成内存泄漏；}
	\tp{e3f2}{e3f}{5489.3}{680}{2. 如何解决}
	\tp{e3f2a}{e3f2}{5465.4}{775.4}{1. 关键方法}
	\tp{e3f2a1}{e3f2a}{5441.6}{898}{1. cleanSomeSlots()}
	\tp{e3f2a2}{e3f2a}{5465.4}{913}{2. expungeStateEntry()}
	\tp{e3f2a3}{e3f2a}{5489.3}{908.4}{3. replaceStaleEntry()}
	\tp{e3f2b}{e3f2}{5513}{1192.6}{2. 在ThreadLocal的set，getEntry以及remove方法中都利用以上三个关键方法对潜在的内存泄漏进行处理；}
	\tp{e3f3}{e3f}{5537}{707.5}{3. 为什么使用弱引用}
	\tp{e3g}{e3}{5560.8}{565}{7. ThreadLocal实践}
	\tp{e3g1}{e3g}{5560.8}{721}{使用完要调用remove方法；}
	\tp{e3h}{e3}{5597.3}{525.7}{8. 应用场景}
	\tp{e3h1}{e3h}{5585}{884.5}{1. hibernate管理session，每个线程维护其自身的sesson，彼此不干扰；}
	\tp{e3h2}{e3h}{5609}{758}{2. 用于解决对象不能被多个线程共享的问题；}
	\tp{e4}{e0o}{5831}{443.4}{4. BlockingQueue}
	\tp{e4a}{e4}{5705.2}{609}{1. BlockingQueue基本操作}
	\tp{e4a1}{e4a}{5657}{703.6}{1. 插入元素}
	\tp{e4a1a}{e4a1}{5633.2}{777.5}{1. add}
	\tp{e4a1a1}{e4a1a}{5633.2}{1163.8}{往队列插入数据，当队列满时，插入元素时会抛出 IllegalStateException 异常；}
	\tp{e4a1b}{e4a1}{5657}{782.3}{2. offer}
	\tp{e4a1b1}{e4a1b}{5657}{1205}{当往队列插入数据时，插入成功返回true，否则则返回false。当队列满时不会抛出异常；}
	\tp{e4a1c}{e4a1}{5681}{774.6}{3. put}
	\tp{e4a1c1}{e4a1c}{5681}{1285.3}{当阻塞队列容量已经满时，往阻塞队列插入数据的线程会被阻塞，直至阻塞队列已经有空余的容量可供使用；}
	\tp{e4a2}{e4a}{5717.4}{703.6}{2. 获取元素}
	\tp{e4a2a}{e4a2}{5705.2}{777.5}{1. poll}
	\tp{e4a2a1}{e4a2a}{5705.2}{1068}{获取数据，并从队列里面删除，当队列为空时，返回 null；}
	\tp{e4a2b}{e4a2}{5729}{780.4}{2. take}
	\tp{e4a2b1}{e4a2b}{5729}{1160}{获取数据，并从队列删除，当阻塞队列为空时，获取队头数据的线程会被阻塞；}
	\tp{e4a3}{e4a}{5753}{704}{3. 删除元素}
	\tp{e4a3a}{e4a3}{5753}{794.7}{1. remove}
	\tp{e4a3a1}{e4a3a}{5753}{1048}{从队列中删除数据，成功则返回true，否则为false}
	\tp{e4b}{e4}{5849.2}{599.4}{2. 常用的BlockingQueue}
	\tp{e4b1}{e4b}{5777.2}{749.7}{1. ArrayBlockingQueue}
	\tp{e4b1a}{e4b1}{5777.2}{899.8}{由数组实现的有界阻塞队列}
	\tp{e4b2}{e4b}{5801}{756.4}{2. LinkedBlockingQueue}
	\tp{e4b2a}{e4b2}{5801}{1148.5}{由链表实现的有界阻塞队列，可指定长度，如果没有指定则为Integer.MAX\_VALUE}
	\tp{e4b3}{e4b}{5825.3}{760}{3. PriorityBlockingQueue}
	\tp{e4b3a}{e4b3}{5825.3}{890.2}{优先级的无界阻塞队列}
	\tp{e4b4}{e4b}{5849.2}{746}{4. SynchronousQueue}
	\tp{e4b4a}{e4b4}{5849.2}{886.4}{不存储任何元素阻塞队列}
	\tp{e4b5}{e4b}{5873.5}{757.4}{5. LinkedTransferQueue}
	\tp{e4b5a}{e4b5}{5873.5}{907.4}{由链表实现的无界阻塞队列}
	\tp{e4b6}{e4b}{5897.3}{755.5}{6. LinkedBlockingDeque}
	\tp{e4b6a}{e4b6}{5897.3}{904.6}{由链表实现的无界阻塞队列}
	\tp{e4b7}{e4b}{5921.2}{712.6}{7. DelayQueue}
	\tp{e4b7a}{e4b7}{5921.2}{952.4}{存在实现了Delayed接口的数据的无界阻塞队列}
	\tp{e4c}{e4}{5957.2}{712.4}{3. ArrayBlockingQueue vs LinkedBlockingQueue}
	\tp{e4c1}{e4c}{5945.5}{1249}{1. 使用notFull和notEmpty两个Condition对待队列，分别存放被阻塞的插入数据线程以及被阻塞的消费数据线程。}
	\tp{e4c2}{e4c}{5969.3}{1210.7}{2. ArrayBlockingQueue只有一个lock，而LinkedBlockingQueue有两个lock，因此Linked并发量会更高。}
	\tp{e5}{e0o}{6041}{512.4}{5. ConcurrentLinkedQueue\notemark}
	\tp{e5a}{e5}{5993.6}{606.4}{1. 实现原理}
	\tp{e5a1}{e5a}{5993.6}{984}{主要采用CAS操作以保证线程安全，并且采用了延时更新的策略，提高吞吐量；}
	\tp{e5b}{e5}{6017.5}{606.4}{2. 数据结构}
	\tp{e5b1}{e5b}{6017.5}{743}{由Node构成的链式队列}
	\tp{e5c}{e5}{6053.5}{607}{3. 核心方法}
	\tp{e5c1}{e5c}{6041.3}{732.4}{1. offer方法现实原理}
	\tp{e5c2}{e5c}{6065.3}{726.6}{2. poll方法实现原理}
	\tp{e5d}{e5}{6089.4}{682.8}{4. HOPS延迟更新的设计目的}
	\tp{e5d1}{e5d}{6089.4}{930.4}{尽可能的减少CAS操作，以提升吞吐量和执行效率}

	%SECTION 6
	\tp{f1}{f0o}{6382.4}{472}{1. ThreadPoolExcutor}
	\tp{f1a}{f1}{6166.5}{607}{1. 为什么使用线程池}
	\tp{f1a1}{f1a}{6142.4}{709.4}{1. 降低资源损耗}
	\tp{f1a2}{f1a}{6166.5}{729.5}{2. 提升系统响应速度}
	\tp{f1a3}{f1a}{6190.6}{739}{3. 提高线程的可管理性}
	\tp{f1b}{f1}{6214.3}{567}{2. 执行流程}
	\tp{f1b1}{f1b}{6214.3}{1045}{核心线程corePool，接着阻塞队列workQueue，最后是最大线程池maxPool，三级缓存的工作方式；}
	\tp{f1c}{f1}{6328.6}{627}{3. 构造器各个参数的意义}
	\tp{f1c1}{f1c}{6238.4}{742}{1. coolPoolSize}
	\tp{f1c1a}{f1c1}{6238.4}{852}{核心线程池的大小}
	\tp{f1c2}{f1c}{6262.4}{769}{2. maximumPoolSize}
	\tp{f1c2a}{f1c2}{6262.4}{879}{线程池的最大容量}
	\tp{f1c3}{f1c}{6286.5}{751.7}{3. keepAliveTime}
	\tp{f1c3a}{f1c3}{6286.5}{872}{空闲线程可存活时间}
	\tp{f1c4}{f1c}{6310.6}{701}{4. unit}
	\tp{f1c4a}{f1c4}{6310.6}{851}{keepAliveTime的时间单位}
	\tp{f1c5}{f1c}{6334.3}{737.3}{5. workQueue}
	\tp{f1c5a}{f1c5}{6334.3}{856.7}{存放任务的阻塞队列}
	\tp{f1c6}{f1c}{6358.4}{749}{6. threadFactory}
	\tp{f1c6a}{f1c6}{6358.4}{858.6}{生成线程的工厂类}
	\tp{f1c7}{f1c}{6418.4}{719}{7. handler}
	\tp{f1c7a}{f1c7}{6418.4}{822.3}{饱和丢弃策略}
	\tp{f1c7a1}{f1c7a}{6382.4}{1233.6}{1. AbortPolicy: 直接拒绝所提交的任务，并抛出RejectedExecutionException异常；}
	\tp{f1c7a2}{f1c7a}{6406.5}{1113}{2. CallerRunsPolicy：只用调用者所在的线程来执行任务；}
	\tp{f1c7a3}{f1c7a}{6430.6}{1038.5}{3. DiscardPolicy：不处理直接丢弃任务；}
	\tp{f1c7a4}{f1c7a}{6454.3}{1220}{4. DiscardOldestPolicy：丢弃掉阻塞队列中存放时间最久的任务，执行当前任务；}
	\tp{f1d}{f1}{6514.3}{577.4}{4. 关闭线程池}
	\tp{f1d1}{f1d}{6478.4}{680}{1. shutdown}
	\tp{f1d1a}{f1d1}{6478.4}{1035.6}{正在执行任务的线程，将任务执行完。空闲线程以中断的方式关闭；}
	\tp{f1d2}{f1d}{6502.4}{700}{2. shutdownNow}
	\tp{f1d2a}{f1d2}{6502.4}{1031}{停止所有线程，包括正在执行任务的线程，返回未执行的任务列表；}
	\tp{f1d3}{f1d}{6526.5}{1017.4}{3. shutdown将线程池状态设置为SHUTDOWN，而shotdownNow将线程池状态设置为STOP}
	\tp{f1d4}{f1d}{6550.6}{796.4}{4. isTerminated 检查线程池是否已经关闭}
	\tp{f1e}{f1}{6598.4}{597.5}{5. 如何配置线程池}
	\tp{f1e1}{f1e}{6574.3}{737}{1. CPU密集型：NCPU+1}
	\tp{f1e2}{f1e}{6598.4}{735}{2. IO密集型：2 x NCPU}
	\tp{f1e3}{f1e}{6622.4}{819.4}{3. 任务按照IO密集型和CPU密集型进行拆分}
	\tp{f2}{f0o}{6706.3}{526.7}{2. ScheduledThreadPoolExecutor}
	\tp{f2a}{f2}{6646.5}{612}{1. 类结构}
	\tp{f2a1}{f2a}{6646.5}{938}{继承了ThreadPoolExcutor，并实现了ScheduledExecutorService}
	\tp{f2b}{f2}{6694.4}{623.3}{2. 常用方法}
	\tp{f2b1}{f2b}{6670.3}{802.2}{1. 可延时执行任务：schedule(...)}
	\tp{f2b2}{f2b}{6694.4}{1002}{2. 可周期执行任务：scheduledAtFixedRate(...)，scheduledWithFixedDelay()}
	\tp{f2b3}{f2b}{6718}{1457.5}{3. scheduledAtFixedRate和scheduledWithFixedDelay 的区别：xxxAtFixedRate不要求任务结束了才开始统计延时时间，而xxxWithFixedDelay要求从任务结束开始统计延时时间。}
	\tp{f2c}{f2}{6742.2}{683.7}{3. ScheduledFutureTask}
	\tp{f2c1}{f2c}{6742.2}{1174.3}{可周期执行的异步任务，每一次执行完后会重新设置任务下一次执行的任务，并且会添加到阻塞队列中。}
	\tp{f2d}{f2}{6766.4}{677}{4. DelayedWorkQueue}
	\tp{f2d1}{f2d}{6766.4}{926.5}{按优先级排序的有界阻塞队列，底层数据结构是堆}
	\tp{f3}{f0o}{6898.4}{433.9}{3. FutureTask}
	\tp{f3a}{f3}{6814.2}{509.4}{1. 状态}
	\tp{f3a1}{f3a}{6790}{676.9}{1. 未启动（还未执行run方法）}
	\tp{f3a2}{f3a}{6814.2}{667.3}{2. 已启动（已执行run方法）}
	\tp{f3a3}{f3a}{6838.3}{731.4}{3. 已结束（正常结束，被取消，出现异常）}
	\tp{f3b}{f3}{6862.4}{509.6}{2. get()}
	\tp{f3b1}{f3b}{6862.4}{855}{未启动和已启动状态，get方法会阻塞当前线程直到异步任务执行结束。}
	\tp{f3c}{f3}{6910.3}{528.6}{3. cancel()}
	\tp{f3c1}{f3c}{6886.6}{614}{1. 未启动}
	\tp{f3c1a}{f3c1}{6886.6}{845.3}{调用cancel方法后该异步任务永远不会再执行}
	\tp{f3c2}{f3c}{6910.3}{614}{2. 已启动}
	\tp{f3c2a}{f3c2}{6910.3}{895}{调用cancel方法后根据参数是否中断当前执行任务的线程}
	\tp{f3c3}{f3c}{6934.4}{614}{3. 已结束}
	\tp{f3c3a}{f3c3}{6934.4}{778.3}{调用cancel方法时会返回false}
	\tp{f3d}{f3}{6958.5}{528.8}{4. 应用场景}
	\tp{f3d1}{f3d}{6958.5}{920}{当一个线程需要等到另一个任务执行结束后才能继续进行时，可以使用futureTask}
	\tp{f3e}{f3}{6982.3}{584.2}{5. 实现了Runnable接口}
	\tp{f3e1}{f3e}{6982.3}{913}{futureTask同样可以交由executor执行，获取直接调用run方法执行}
	\tp{f4}{f0o}{7042.4}{429}{4. Executors}
	\tp{f4a}{f4}{7006.4}{606.4}{1. newSingleThreadExecutor}
	\tp{f4a1}{f4a}{7006.4}{1670}{创建一个单线程的线程池。这个线程池只有一个线程在工作，也就是相当于单线程串行执行所有任务。如果这个唯一的线程因为异常结束，那么会有一个新的线程来替代它。此线程池保证所有任务的执行顺序按照任务的提交顺序执行。}
	\tp{f4b}{f4}{7030.5}{582.4}{2. newFixedThreadPool}
	\tp{f4b1}{f4b}{7030.5}{1725}{创建固定大小的线程池。每次提交一个任务就创建一个线程，直到线程达到线程池的最大大小。线程池的大小一旦达到最大值就会保持不变，在提交新任务，任务将会进入等待队列中等待。如果某个线程因为执行异常而结束，那么线程池会补充一个新线程。}
	\tp{f4c}{f4}{7054.2}{592}{3. newCachedThreadPool}
	\tp{f4c1}{f4c}{7054.2}{1720}{创建一个可缓存的线程池。如果线程池的大小超过了处理任务所需要的线程，那么就会回收部分空闲（60秒处于等待任务到来）的线程，当任务数增加时，此线程池又可以智能的添加新线程来处理任务。此线程池的最大值是Integer的最大值。}
	\tp{f4d}{f4}{7078.4}{606.4}{4. newScheduledThreadPool}
	\tp{f4d1}{f4d}{7078.4}{977.3}{创建一个大小无限的线程池。此线程池支持定时以及周期性执行任务的需求。}

	%SECTION 7
	\tp{g1}{g0o}{7131.3}{366}{1. 原理}
	\tp{g1a}{g1}{7131.3}{580}{通过volatile修饰变量，并通过CAS实现；}
	\tp{g2}{g0o}{7287.2}{376.5}{2. 相关类}
	\tp{g2a}{g2}{7179.6}{512.4}{1. 原子更新基本类型}
	\tp{g2a1}{g2a}{7155.5}{621.5}{1. AtomicInteger}
	\tp{g2a2}{g2a}{7179.6}{609}{2. AtomicLong}
	\tp{g2a3}{g2a}{7203.7}{626}{3. AtomicBoolean}
	\tp{g2b}{g2}{7251.5}{512.4}{2. 原子更新数组类型}
	\tp{g2b1}{g2b}{7227.4}{646}{1. AtomicIntegerArray}
	\tp{g2b2}{g2b}{7251.5}{634}{2. AtomicLongArray}
	\tp{g2b3}{g2b}{7275.3}{659.6}{3. AtomicReferenceArray}
	\tp{g2c}{g2}{7323.3}{512.2}{3. 原子更新引用类型}
	\tp{g2c1}{g2c}{7299.1}{634.7}{1. AtomicReference}
	\tp{g2c2}{g2c}{7323.3}{697}{2. AtomicReferenceFieldUpdater}
	\tp{g2c3}{g2c}{7347.5}{679.6}{3. AtomicMarkableReference}
	\tp{g2d}{g2}{7395.2}{512.2}{4. 原子更新字段类型}
	\tp{g2d1}{g2d}{7371.4}{682.7}{1. AtomicIntegerFieldUpdater}
	\tp{g2d2}{g2d}{7395.2}{648}{2. AtomicLongUpdater}
	\tp{g2d3}{g2d}{7419.4}{676.5}{3. AtomicStampedReference}

	%SECTION 8
	\tp{h1}{h0o}{7504.3}{471.4}{1. 倒计时器 CountDownLatch\notemark}
	\tp{h1a}{h1}{7484.2}{546}{1. 概述}
	\tp{h1a1}{h1a}{7472.3}{951}{1. 当维护的计数器为0时，调用await的线程才会继续执行下去，否则一直阻塞等待；}
	\tp{h1a2}{h1a}{7496.5}{827.6}{2. 适用于一个线程等待多个线程执行完成才执行的场景；}
	\tp{h1b}{h1}{7525.5}{546}{2. 原理}
	\tp{h1b1}{h1b}{7525.5}{799}{内部维护了一个AQS子类，实现了模版方法。\notemark}
	\tp{h2}{h0o}{7561.7}{450}{2. 循环栅栏 CyclicBarrier\notemark}
	\tp{h2a}{h2}{7549.4}{525}{1. 概述}
	\tp{h2a1}{h2a}{7549.4}{881.6}{所有线程均到达临界点，所有线程才开始执行，否则一直await阻塞等待；}
	\tp{h2b}{h2}{7573.6}{525}{2. 原理}
	\tp{h2b1}{h2b}{7573.6}{722.4}{基于ReentrantLock,Condition实现；}
	\tp{h3}{h0o}{7609.4}{474.5}{3. 资源访问控制器 Semophore\notemark}
	\tp{h3a}{h3}{7597.4}{548.3}{1. 概述}
	\tp{h3a1}{h3a}{7597.4}{1875}{用于控制资源能够被并发访问的线程数量，以保证多个线程能够合理的使用特定资源。线程需要先通过 acquire 方法获取该许可证，该线程才能继续往下执行，否则只能在该方法出阻塞等待。当执行完业务功能后，需要通过release()方法将许可证归还，以便其他线程能够获得许可证继续执行。}
	\tp{h3b}{h3}{7621.3}{548.3}{2. 原理}
	\tp{h3b1}{h3b}{7621.3}{1377.6}{内部维护一个AQS子类，初始化时设置初识容量，当小于等于此容量则可获取通行证执行，大于此值时，则进入等待队列，获取通行证的执行完成后，释放通行证，并通知等待队列；}
	\tp{h4}{h0o}{7657.4}{416.3}{4. 数据交换 Exchanger}
	\tp{h4a}{h4}{7645.5}{489}{1. 概述}
	\tp{h4a1}{h4a}{7645.5}{1295}{为两个线程提供一个同步点，当两个线程都到达同步点后，可以使用exchange方法相互交互数据。如果一个线程先到达同步点，则会阻塞等待，直到另一个线程也到达同步点。}
	\tp{h4b}{h4}{7669.3}{476.5}{2. 原理}

	%SECTION 9
	\tp{i1}{i0o}{7782.2}{386}{生产者消费者\notemark}
	\tp{i1a}{i1}{7746.4}{616}{1. 使用Object wait(), notifyAll()方式实现}
	\tp{i1a1}{i1a}{7746.4}{699}{注意事项}
	\tp{i1a1a}{i1a1}{7722.2}{995}{1 先用synchronized进行加锁，然后再使用wait(),notifyAll;}
	\tp{i1a1b}{i1a1}{7746.4}{893}{2 条件判断使用while而不能使用if;}
	\tp{i1a1c}{i1a1}{7770.2}{886.7}{3 使用notifyAll，而不使用notify;}
	\tp{i1b}{i1}{7794.4}{658}{2. 使用Lock Condition 的await(), signalAll() 方式实现}
	\tp{i1c}{i1}{7818.7}{545}{3. 使用BlockQueue方式实现}
\end{tikzpicture}
\end{document}
